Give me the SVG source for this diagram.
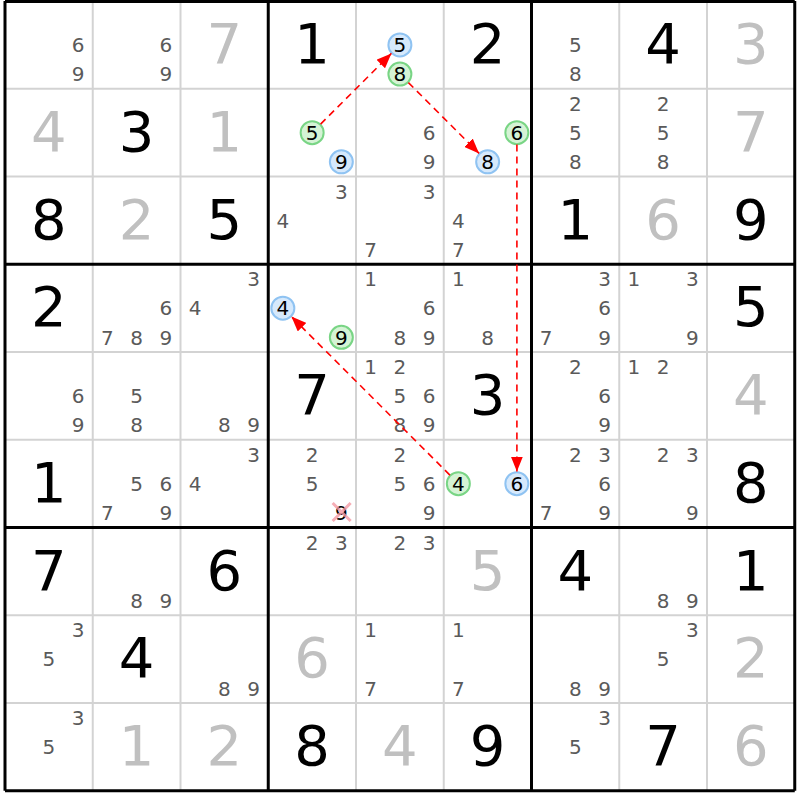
<svg xmlns="http://www.w3.org/2000/svg" width="800" height="800" viewBox="0 0 800 800">
<style>
text{font-family:"DejaVu Sans","Liberation Sans",sans-serif;text-anchor:middle}
.g{font-size:56px;fill:#000}
.s{font-size:56px;fill:#c0c0c0}
.c{font-size:20px;fill:#5a5a5a}
.k{font-size:20px;fill:#000}
.cb{fill:#d6e9fc;stroke:#8fc3f2;stroke-width:2}
.cg{fill:#d5f3d5;stroke:#79d585;stroke-width:2}
.thin{stroke:#d3d3d3;stroke-width:2;fill:none}
.thick{stroke:#000;stroke-width:3;fill:none}
.link{stroke:#f00;stroke-width:1.6;stroke-dasharray:7,5;fill:none;marker-end:url(#ah)}
.x{stroke:#f49aa4;stroke-width:3}
</style>
<defs>
<marker id="ah" markerUnits="userSpaceOnUse" markerWidth="16" markerHeight="12" refX="15" refY="6" orient="auto">
<path d="M0,0 L15,6 L0,12 z" fill="#f00"/>
</marker>
</defs>
<rect x="0" y="0" width="800" height="800" fill="#fff"/>
<g id="grid">
<path class="thin" d="M92.75,1V790.75M180.5,1V790.75M356,1V790.75M443.75,1V790.75M619.25,1V790.75M707,1V790.75M5,88.75H794.75M5,176.5H794.75M5,352H794.75M5,439.75H794.75M5,615.25H794.75M5,703H794.75"/>
<path class="thick" d="M5,1V790.75M268.25,1V790.75M531.5,1V790.75M794.75,1V790.75M5,1.5H794.75M5,264.25H794.75M5,527.5H794.75M5,790.75H794.75"/>
</g>

<g id="r0c0" transform="translate(5,1)"><text class="c" x="73.1" y="51.2">6</text><text class="c" x="73.1" y="80.4">9</text></g>
<g id="r0c1" transform="translate(92.75,1)"><text class="c" x="73.1" y="51.2">6</text><text class="c" x="73.1" y="80.4">9</text></g>
<g id="r0c2" transform="translate(180.5,1)"><text class="s" x="43.9" y="62">7</text></g>
<g id="r0c3" transform="translate(268.25,1)"><text class="g" x="43.9" y="62">1</text></g>
<g id="r0c4" transform="translate(356,1)"><circle class="cb" cx="43.9" cy="43.9" r="11.5"/><text class="k" x="43.9" y="51.2">5</text><circle class="cg" cx="43.9" cy="73.1" r="11.5"/><text class="k" x="43.9" y="80.4">8</text></g>
<g id="r0c5" transform="translate(443.75,1)"><text class="g" x="43.9" y="62">2</text></g>
<g id="r0c6" transform="translate(531.5,1)"><text class="c" x="43.9" y="51.2">5</text><text class="c" x="43.9" y="80.4">8</text></g>
<g id="r0c7" transform="translate(619.25,1)"><text class="g" x="43.9" y="62">4</text></g>
<g id="r0c8" transform="translate(707,1)"><text class="s" x="43.9" y="62">3</text></g>

<g id="r1c0" transform="translate(5,88.75)"><text class="s" x="43.9" y="62">4</text></g>
<g id="r1c1" transform="translate(92.75,88.75)"><text class="g" x="43.9" y="62">3</text></g>
<g id="r1c2" transform="translate(180.5,88.75)"><text class="s" x="43.9" y="62">1</text></g>
<g id="r1c3" transform="translate(268.25,88.75)"><circle class="cg" cx="43.9" cy="43.9" r="11.5"/><text class="k" x="43.9" y="51.2">5</text><circle class="cb" cx="73.1" cy="73.1" r="11.5"/><text class="k" x="73.1" y="80.4">9</text></g>
<g id="r1c4" transform="translate(356,88.75)"><text class="c" x="73.1" y="51.2">6</text><text class="c" x="73.1" y="80.4">9</text></g>
<g id="r1c5" transform="translate(443.75,88.75)"><circle class="cg" cx="73.1" cy="43.9" r="11.5"/><text class="k" x="73.1" y="51.2">6</text><circle class="cb" cx="43.9" cy="73.1" r="11.5"/><text class="k" x="43.9" y="80.4">8</text></g>
<g id="r1c6" transform="translate(531.5,88.75)"><text class="c" x="43.9" y="22">2</text><text class="c" x="43.9" y="51.2">5</text><text class="c" x="43.9" y="80.4">8</text></g>
<g id="r1c7" transform="translate(619.25,88.75)"><text class="c" x="43.9" y="22">2</text><text class="c" x="43.9" y="51.2">5</text><text class="c" x="43.9" y="80.4">8</text></g>
<g id="r1c8" transform="translate(707,88.75)"><text class="s" x="43.9" y="62">7</text></g>

<g id="r2c0" transform="translate(5,176.5)"><text class="g" x="43.9" y="62">8</text></g>
<g id="r2c1" transform="translate(92.75,176.5)"><text class="s" x="43.9" y="62">2</text></g>
<g id="r2c2" transform="translate(180.5,176.5)"><text class="g" x="43.9" y="62">5</text></g>
<g id="r2c3" transform="translate(268.25,176.5)"><text class="c" x="73.1" y="22">3</text><text class="c" x="14.6" y="51.2">4</text></g>
<g id="r2c4" transform="translate(356,176.5)"><text class="c" x="73.1" y="22">3</text><text class="c" x="14.6" y="80.4">7</text></g>
<g id="r2c5" transform="translate(443.75,176.5)"><text class="c" x="14.6" y="51.2">4</text><text class="c" x="14.6" y="80.4">7</text></g>
<g id="r2c6" transform="translate(531.5,176.5)"><text class="g" x="43.9" y="62">1</text></g>
<g id="r2c7" transform="translate(619.25,176.5)"><text class="s" x="43.9" y="62">6</text></g>
<g id="r2c8" transform="translate(707,176.5)"><text class="g" x="43.9" y="62">9</text></g>

<g id="r3c0" transform="translate(5,264.25)"><text class="g" x="43.9" y="62">2</text></g>
<g id="r3c1" transform="translate(92.75,264.25)"><text class="c" x="73.1" y="51.2">6</text><text class="c" x="14.6" y="80.4">7</text><text class="c" x="43.9" y="80.4">8</text><text class="c" x="73.1" y="80.4">9</text></g>
<g id="r3c2" transform="translate(180.5,264.25)"><text class="c" x="73.1" y="22">3</text><text class="c" x="14.6" y="51.2">4</text></g>
<g id="r3c3" transform="translate(268.25,264.25)"><circle class="cb" cx="14.6" cy="43.9" r="11.5"/><text class="k" x="14.6" y="51.2">4</text><circle class="cg" cx="73.1" cy="73.1" r="11.5"/><text class="k" x="73.1" y="80.4">9</text></g>
<g id="r3c4" transform="translate(356,264.25)"><text class="c" x="14.6" y="22">1</text><text class="c" x="73.1" y="51.2">6</text><text class="c" x="43.9" y="80.4">8</text><text class="c" x="73.1" y="80.4">9</text></g>
<g id="r3c5" transform="translate(443.75,264.25)"><text class="c" x="14.6" y="22">1</text><text class="c" x="43.9" y="80.4">8</text></g>
<g id="r3c6" transform="translate(531.5,264.25)"><text class="c" x="73.1" y="22">3</text><text class="c" x="73.1" y="51.2">6</text><text class="c" x="14.6" y="80.4">7</text><text class="c" x="73.1" y="80.4">9</text></g>
<g id="r3c7" transform="translate(619.25,264.25)"><text class="c" x="14.6" y="22">1</text><text class="c" x="73.1" y="22">3</text><text class="c" x="73.1" y="80.4">9</text></g>
<g id="r3c8" transform="translate(707,264.25)"><text class="g" x="43.9" y="62">5</text></g>

<g id="r4c0" transform="translate(5,352)"><text class="c" x="73.1" y="51.2">6</text><text class="c" x="73.1" y="80.4">9</text></g>
<g id="r4c1" transform="translate(92.75,352)"><text class="c" x="43.9" y="51.2">5</text><text class="c" x="43.9" y="80.4">8</text></g>
<g id="r4c2" transform="translate(180.5,352)"><text class="c" x="43.9" y="80.4">8</text><text class="c" x="73.1" y="80.4">9</text></g>
<g id="r4c3" transform="translate(268.25,352)"><text class="g" x="43.9" y="62">7</text></g>
<g id="r4c4" transform="translate(356,352)"><text class="c" x="14.6" y="22">1</text><text class="c" x="43.9" y="22">2</text><text class="c" x="43.9" y="51.2">5</text><text class="c" x="73.1" y="51.2">6</text><text class="c" x="43.9" y="80.4">8</text><text class="c" x="73.1" y="80.4">9</text></g>
<g id="r4c5" transform="translate(443.75,352)"><text class="g" x="43.9" y="62">3</text></g>
<g id="r4c6" transform="translate(531.5,352)"><text class="c" x="43.9" y="22">2</text><text class="c" x="73.1" y="51.2">6</text><text class="c" x="73.1" y="80.4">9</text></g>
<g id="r4c7" transform="translate(619.25,352)"><text class="c" x="14.6" y="22">1</text><text class="c" x="43.9" y="22">2</text></g>
<g id="r4c8" transform="translate(707,352)"><text class="s" x="43.9" y="62">4</text></g>

<g id="r5c0" transform="translate(5,439.75)"><text class="g" x="43.9" y="62">1</text></g>
<g id="r5c1" transform="translate(92.75,439.75)"><text class="c" x="43.9" y="51.2">5</text><text class="c" x="73.1" y="51.2">6</text><text class="c" x="14.6" y="80.4">7</text><text class="c" x="73.1" y="80.4">9</text></g>
<g id="r5c2" transform="translate(180.5,439.75)"><text class="c" x="73.1" y="22">3</text><text class="c" x="14.6" y="51.2">4</text></g>
<g id="r5c3" transform="translate(268.25,439.75)"><text class="c" x="43.9" y="22">2</text><text class="c" x="43.9" y="51.2">5</text><text class="k" x="73.1" y="80.4">9</text><path class="x" d="M64.4,63.3L82.4,81.3M82.4,63.3L64.4,81.3" opacity="0.8"/></g>
<g id="r5c4" transform="translate(356,439.75)"><text class="c" x="43.9" y="22">2</text><text class="c" x="43.9" y="51.2">5</text><text class="c" x="73.1" y="51.2">6</text><text class="c" x="73.1" y="80.4">9</text></g>
<g id="r5c5" transform="translate(443.75,439.75)"><circle class="cg" cx="14.6" cy="43.9" r="11.5"/><text class="k" x="14.6" y="51.2">4</text><circle class="cb" cx="73.1" cy="43.9" r="11.5"/><text class="k" x="73.1" y="51.2">6</text></g>
<g id="r5c6" transform="translate(531.5,439.75)"><text class="c" x="43.9" y="22">2</text><text class="c" x="73.1" y="22">3</text><text class="c" x="73.1" y="51.2">6</text><text class="c" x="14.6" y="80.4">7</text><text class="c" x="73.1" y="80.4">9</text></g>
<g id="r5c7" transform="translate(619.25,439.75)"><text class="c" x="43.9" y="22">2</text><text class="c" x="73.1" y="22">3</text><text class="c" x="73.1" y="80.4">9</text></g>
<g id="r5c8" transform="translate(707,439.75)"><text class="g" x="43.9" y="62">8</text></g>

<g id="r6c0" transform="translate(5,527.5)"><text class="g" x="43.9" y="62">7</text></g>
<g id="r6c1" transform="translate(92.75,527.5)"><text class="c" x="43.9" y="80.4">8</text><text class="c" x="73.1" y="80.4">9</text></g>
<g id="r6c2" transform="translate(180.5,527.5)"><text class="g" x="43.9" y="62">6</text></g>
<g id="r6c3" transform="translate(268.25,527.5)"><text class="c" x="43.9" y="22">2</text><text class="c" x="73.1" y="22">3</text></g>
<g id="r6c4" transform="translate(356,527.5)"><text class="c" x="43.9" y="22">2</text><text class="c" x="73.1" y="22">3</text></g>
<g id="r6c5" transform="translate(443.75,527.5)"><text class="s" x="43.9" y="62">5</text></g>
<g id="r6c6" transform="translate(531.5,527.5)"><text class="g" x="43.9" y="62">4</text></g>
<g id="r6c7" transform="translate(619.25,527.5)"><text class="c" x="43.9" y="80.4">8</text><text class="c" x="73.1" y="80.4">9</text></g>
<g id="r6c8" transform="translate(707,527.5)"><text class="g" x="43.9" y="62">1</text></g>

<g id="r7c0" transform="translate(5,615.25)"><text class="c" x="73.1" y="22">3</text><text class="c" x="43.9" y="51.2">5</text></g>
<g id="r7c1" transform="translate(92.75,615.25)"><text class="g" x="43.9" y="62">4</text></g>
<g id="r7c2" transform="translate(180.5,615.25)"><text class="c" x="43.9" y="80.4">8</text><text class="c" x="73.1" y="80.4">9</text></g>
<g id="r7c3" transform="translate(268.25,615.25)"><text class="s" x="43.9" y="62">6</text></g>
<g id="r7c4" transform="translate(356,615.25)"><text class="c" x="14.6" y="22">1</text><text class="c" x="14.6" y="80.4">7</text></g>
<g id="r7c5" transform="translate(443.75,615.25)"><text class="c" x="14.6" y="22">1</text><text class="c" x="14.6" y="80.4">7</text></g>
<g id="r7c6" transform="translate(531.5,615.25)"><text class="c" x="43.9" y="80.4">8</text><text class="c" x="73.1" y="80.4">9</text></g>
<g id="r7c7" transform="translate(619.25,615.25)"><text class="c" x="73.1" y="22">3</text><text class="c" x="43.9" y="51.2">5</text></g>
<g id="r7c8" transform="translate(707,615.25)"><text class="s" x="43.9" y="62">2</text></g>

<g id="r8c0" transform="translate(5,703)"><text class="c" x="73.1" y="22">3</text><text class="c" x="43.9" y="51.2">5</text></g>
<g id="r8c1" transform="translate(92.75,703)"><text class="s" x="43.9" y="62">1</text></g>
<g id="r8c2" transform="translate(180.5,703)"><text class="s" x="43.9" y="62">2</text></g>
<g id="r8c3" transform="translate(268.25,703)"><text class="g" x="43.9" y="62">8</text></g>
<g id="r8c4" transform="translate(356,703)"><text class="s" x="43.9" y="62">4</text></g>
<g id="r8c5" transform="translate(443.75,703)"><text class="g" x="43.9" y="62">9</text></g>
<g id="r8c6" transform="translate(531.5,703)"><text class="c" x="73.1" y="22">3</text><text class="c" x="43.9" y="51.2">5</text></g>
<g id="r8c7" transform="translate(619.25,703)"><text class="g" x="43.9" y="62">7</text></g>
<g id="r8c8" transform="translate(707,703)"><text class="s" x="43.9" y="62">6</text></g>

<g id="connectors">
<path class="link" d="M320.6,124.1L391.4,53.4"/>
<path class="link" d="M408.4,82.6L479.1,153.4"/>
<path class="link" d="M516.9,144.6L516.9,471.6"/>
<path class="link" d="M449.9,475.1L291.4,316.6"/>
</g>
</svg>
